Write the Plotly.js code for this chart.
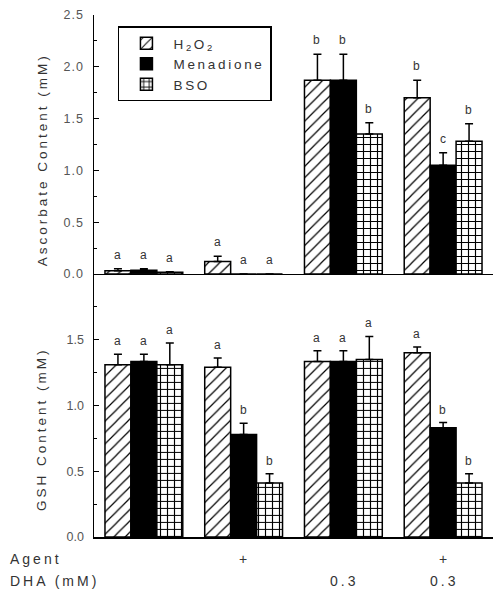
<!DOCTYPE html>
<html><head><meta charset="utf-8">
<script src="https://cdn.plot.ly/plotly-3.0.1.min.js"></script>
<style>
html,body{margin:0;padding:0;background:#fff}
text.annotation-text{letter-spacing:3px}
text.legendtext{letter-spacing:2.7px}
.ytick text{letter-spacing:1px}
</style></head><body><div id="chart" style="width:503px;height:601px"></div>
<script>
const groups = ['Control','Agent','DHA','Agent+DHA'];
const seriesNames = ['H<sub>2</sub>O<sub>2</sub>','Menadione','BSO'];
// Ascorbate content (mM)
const ascH2O2 = [0.03, 0.12, 1.87, 1.70];
const ascH2O2Err = [0.02, 0.05, 0.25, 0.17];
const ascMen = [0.035, 0, 1.87, 1.05];
const ascMenErr = [0.015, 0, 0.25, 0.12];
const ascBSO = [0.015, 0, 1.35, 1.28];
const ascBSOErr = [0.005, 0, 0.11, 0.17];
const ascLetters = [['a','a','b','b'],['a','a','b','c'],['a','a','b','b']];
// GSH content (mM)
const gshH2O2 = [1.31, 1.29, 1.335, 1.40];
const gshH2O2Err = [0.08, 0.07, 0.08, 0.045];
const gshMen = [1.335, 0.78, 1.335, 0.83];
const gshMenErr = [0.055, 0.085, 0.08, 0.04];
const gshBSO = [1.31, 0.41, 1.35, 0.41];
const gshBSOErr = [0.165, 0.07, 0.175, 0.07];
const gshLetters = [['a','a','a','a'],['a','b','a','b'],['a','b','a','b']];
// treatment rows
const agentRow = ['', '+', '', '+'];
const dhaRow = ['', '', '0.3', '0.3'];
const ascTicks = [0, 0.5, 1.0, 1.5, 2.0, 2.5];
const gshTicks = [0, 0.5, 1.0, 1.5];

const FONT = 'Liberation Sans, Arial, sans-serif';
const styles = [
  {color:'#fff', pattern:{shape:'/', size:8, solidity:0.15, fgcolor:'#000', bgcolor:'#fff', fillmode:'replace'}},
  {color:'#000'},
  {color:'#fff', pattern:{shape:'+', size:7, solidity:0.3, fgcolor:'#000', bgcolor:'#fff', fillmode:'replace'}}
];
const idx = groups.map((g,i)=>i);
function bar(vals, errs, k, xa, ya, showleg){
  const st = styles[k];
  const marker = {color: st.color, line:{color:'#000', width:1.5}};
  if (st.pattern) marker.pattern = st.pattern;
  return {type:'bar', x: idx, y: vals, xaxis: xa, yaxis: ya, name: seriesNames[k],
    showlegend: showleg, legendgroup: 's'+k, marker: marker,
    error_y:{type:'data', array: errs, arrayminus: errs.map(()=>0), symmetric:false,
      color:'#000', thickness:1.5, width:4},
    hoverinfo:'y'};
}
const ascVals = [ascH2O2, ascMen, ascBSO], ascErrs = [ascH2O2Err, ascMenErr, ascBSOErr];
const gshVals = [gshH2O2, gshMen, gshBSO], gshErrs = [gshH2O2Err, gshMenErr, gshBSOErr];
const data = [];
for (let k=0;k<3;k++) data.push(bar(ascVals[k], ascErrs[k], k, 'x2', 'y', true));
for (let k=0;k<3;k++) data.push(bar(gshVals[k], gshErrs[k], k, 'x', 'y2', false));

const bargap = 0.22;
const bw = (1 - bargap) / 3;
const txt = '#333';
const annotations = [];
for (let k=0;k<3;k++){
  for (let i=0;i<groups.length;i++){
    annotations.push({xref:'x2', yref:'y', x: i + (k-1)*bw, y: ascVals[k][i] + ascErrs[k][i],
      text: ascLetters[k][i], showarrow:false, yanchor:'middle', yshift:14, xshift:1,
      font:{family:FONT, size:12, color:txt}});
    annotations.push({xref:'x', yref:'y2', x: i + (k-1)*bw, y: gshVals[k][i] + gshErrs[k][i],
      text: gshLetters[k][i], showarrow:false, yanchor:'middle', yshift:13, xshift:1,
      font:{family:FONT, size:12, color:txt}});
  }
}
for (let i=0;i<groups.length;i++){
  if (agentRow[i]) annotations.push({xref:'x', yref:'paper', x:i, y:-0.042, text:agentRow[i],
    showarrow:false, xshift:1, yanchor:'middle', font:{family:FONT, size:14, color:txt}});
  if (dhaRow[i]) annotations.push({xref:'x', yref:'paper', x:i, y:-0.084, text:dhaRow[i],
    showarrow:false, xshift:1, yanchor:'middle', font:{family:FONT, size:14, color:txt}});
}
annotations.push({xref:'paper', yref:'paper', x:-0.215, y:-0.042, xanchor:'left', yanchor:'middle', text:'Agent',
  showarrow:false, font:{family:FONT, size:14, color:txt}});
annotations.push({xref:'paper', yref:'paper', x:-0.215, y:-0.084, xanchor:'left', yanchor:'middle', text:'DHA (mM)',
  showarrow:false, font:{family:FONT, size:14, color:txt}});
annotations.push({xref:'paper', yref:'paper', x:-0.13, y:0.722, textangle:-90, text:'Ascorbate Content (mM)',
  showarrow:false, xanchor:'center', yanchor:'middle', font:{family:FONT, size:13.5, color:txt}});
annotations.push({xref:'paper', yref:'paper', x:-0.13, y:0.207, textangle:-90, text:'GSH Content (mM)',
  showarrow:false, xanchor:'center', yanchor:'middle', font:{family:FONT, size:13.5, color:txt}});

const xCommon = {range:[-0.5, 3.5], showline:true, linecolor:'#000', linewidth:1.5,
  showticklabels:false, ticks:'', showgrid:false, zeroline:false, fixedrange:true};
const yCommon = {showline:true, linecolor:'#000', linewidth:1.5, ticks:'inside', ticklen:5,
  tickwidth:1, tickcolor:'#000', showgrid:false, zeroline:false, tickformat:'.1f',
  tickfont:{family:FONT, size:12.5, color:'#555'}, ticklabelstandoff:6,
  tickmode:'array'};
const layout = {
  width:503, height:601, margin:{l:94, r:10, t:15, b:64},
  paper_bgcolor:'#fff', plot_bgcolor:'#fff',
  barmode:'group', bargap: bargap, bargroupgap:0,
  font:{family:FONT, color:txt},
  xaxis: Object.assign({}, xCommon, {anchor:'y2'}),
  xaxis2: Object.assign({}, xCommon, {anchor:'y', matches:'x'}),
  yaxis: Object.assign({}, yCommon, {domain:[0.504, 1], range:[0, 2.5], anchor:'x2',
    tickvals: ascTicks, minor:{tickvals:[0.25,0.75,1.25,1.75,2.25], ticks:'inside', ticklen:3, tickcolor:'#000'}}),
  yaxis2: Object.assign({}, yCommon, {domain:[0, 0.504], range:[0, 2.0], anchor:'x',
    tickvals: gshTicks, minor:{tickvals:[0.25,0.75,1.25,1.75], ticks:'inside', ticklen:3, tickcolor:'#000'}}),
  legend:{x:0.06, y:0.978, xanchor:'left', yanchor:'top', bgcolor:'#fff', bordercolor:'#000',
    borderwidth:1.5, font:{family:FONT, size:13.5, color:txt}, tracegroupgap:0,
    itemwidth:44},
  annotations: annotations,
  showlegend:true
};
Plotly.newPlot('chart', data, layout, {displayModeBar:false, staticPlot:true});
</script></body></html>
